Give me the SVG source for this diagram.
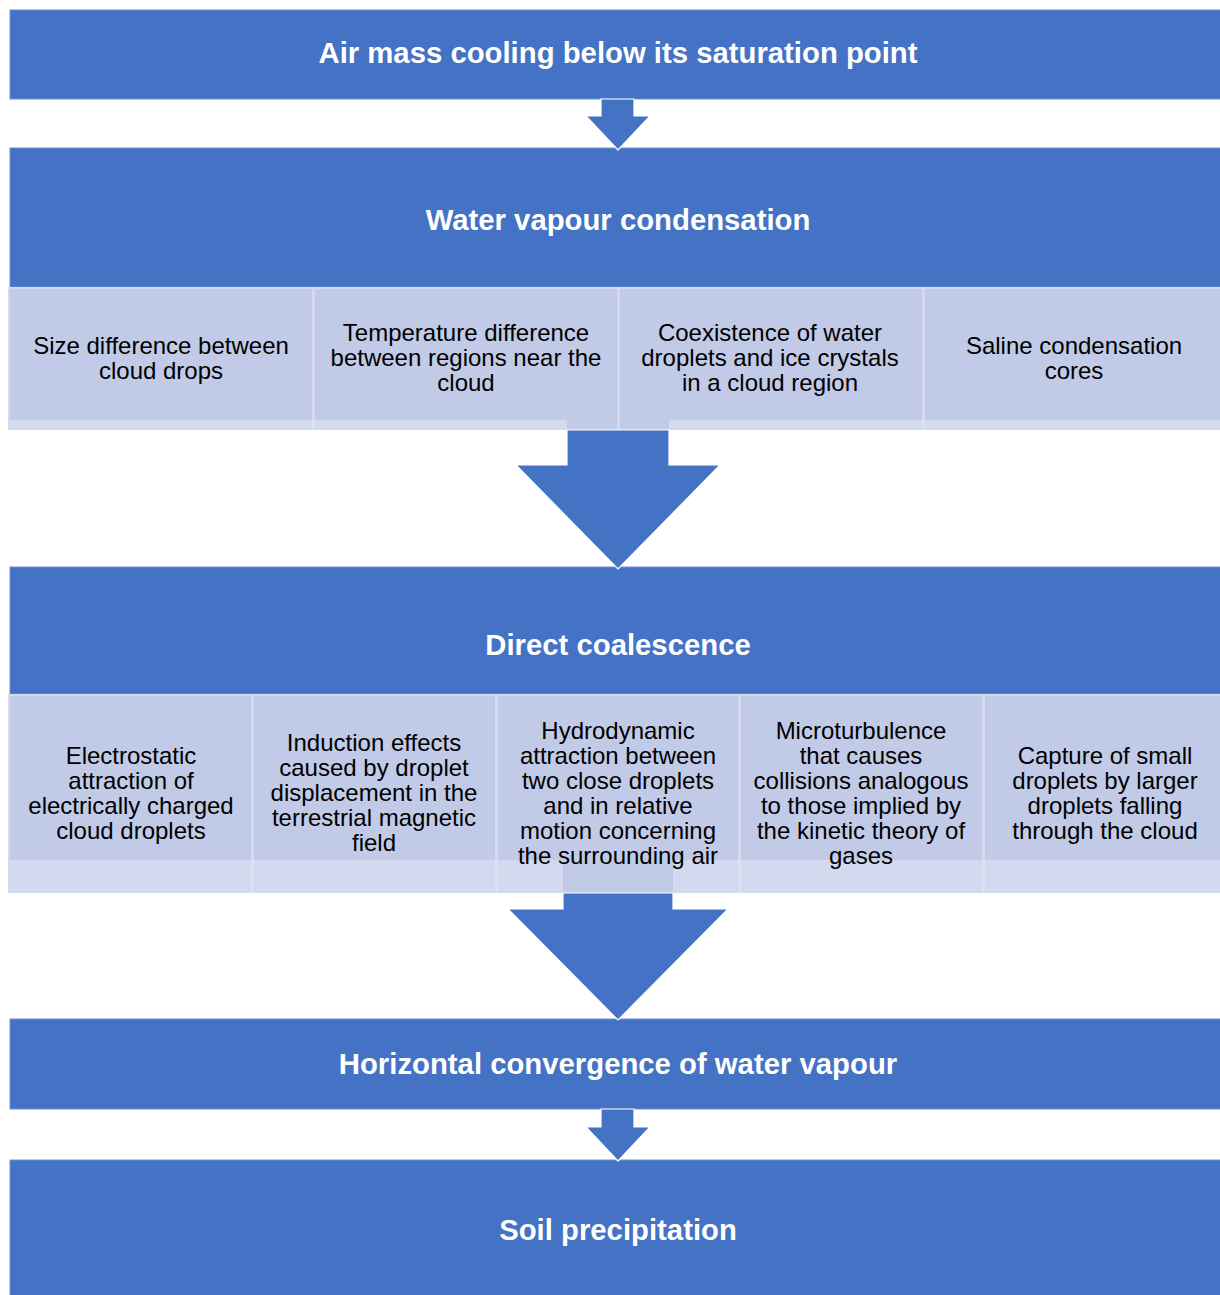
<svg xmlns="http://www.w3.org/2000/svg" width="1220" height="1295" viewBox="0 0 1220 1295">
<style>
.main{fill:#4472C4;stroke:#6E8FD0;stroke-width:1}
.title{font-family:"Liberation Sans",Arial,sans-serif;font-weight:bold;font-size:29.3px;fill:#FFFFFF;text-anchor:middle}
.bg{fill:#D3D9EE}
.cell{fill:#C1CAE6}
.sep{stroke:#DCE1F2;stroke-width:3}
.t{font-family:"Liberation Sans",Arial,sans-serif;font-size:24px;fill:#000000;text-anchor:middle}
.arrow{fill:#4472C4;stroke:#FFFFFF;stroke-width:1.2;stroke-linejoin:miter}
</style>
<rect width="1220" height="1295" fill="#FFFFFF"/>

<g id="node-air-mass">
<rect class="main" x="10" y="10" width="1215" height="89"/>
<text class="title" x="618" y="63">Air mass cooling below its saturation point</text>
</g>

<g id="node-water-vapour">
<rect class="main" x="10" y="148" width="1215" height="139"/>
<text class="title" x="618" y="230">Water vapour condensation</text>
</g>

<g id="row1">
<rect class="bg" x="8" y="287" width="1217" height="143"/>
<rect class="cell" x="567" y="420" width="50" height="10"/>
<rect class="cell" x="620" y="420" width="49" height="10"/>
<line class="sep" x1="313.5" y1="420" x2="313.5" y2="430"/>
<line class="sep" x1="923.5" y1="420" x2="923.5" y2="430"/>
<g id="node-size-difference">
<rect class="cell" x="10" y="289" width="302" height="131"/>
<text class="t"><tspan x="161" y="354">Size difference between</tspan><tspan x="161" y="379">cloud drops</tspan></text>
</g>
<g id="node-temperature-difference">
<rect class="cell" x="315" y="289" width="302" height="131"/>
<text class="t"><tspan x="466" y="341">Temperature difference</tspan><tspan x="466" y="366">between regions near the</tspan><tspan x="466" y="391">cloud</tspan></text>
</g>
<g id="node-coexistence">
<rect class="cell" x="620" y="289" width="302" height="131"/>
<text class="t"><tspan x="770" y="341">Coexistence of water</tspan><tspan x="770" y="366">droplets and ice crystals</tspan><tspan x="770" y="391">in a cloud region</tspan></text>
</g>
<g id="node-saline">
<rect class="cell" x="925" y="289" width="300" height="131"/>
<text class="t"><tspan x="1074" y="354">Saline condensation</tspan><tspan x="1074" y="379">cores</tspan></text>
</g>
</g>

<g id="node-direct-coalescence">
<rect class="main" x="10" y="567" width="1215" height="127"/>
<text class="title" x="618" y="655">Direct coalescence</text>
</g>

<g id="row2">
<rect class="bg" x="8" y="694" width="1217" height="199"/>
<rect class="cell" x="563" y="860" width="110" height="33"/>
<line class="sep" x1="252.5" y1="860" x2="252.5" y2="893"/>
<line class="sep" x1="496.5" y1="860" x2="496.5" y2="893"/>
<line class="sep" x1="739.5" y1="860" x2="739.5" y2="893"/>
<line class="sep" x1="983.5" y1="860" x2="983.5" y2="893"/>
<g id="node-electrostatic">
<rect class="cell" x="10" y="696" width="241" height="164"/>
<text class="t"><tspan x="131" y="764">Electrostatic</tspan><tspan x="131" y="789">attraction of</tspan><tspan x="131" y="814">electrically charged</tspan><tspan x="131" y="839">cloud droplets</tspan></text>
</g>
<g id="node-induction">
<rect class="cell" x="254" y="696" width="241" height="164"/>
<text class="t"><tspan x="374" y="751">Induction effects</tspan><tspan x="374" y="776">caused by droplet</tspan><tspan x="374" y="801">displacement in the</tspan><tspan x="374" y="826">terrestrial magnetic</tspan><tspan x="374" y="851">field</tspan></text>
</g>
<g id="node-hydrodynamic">
<rect class="cell" x="498" y="696" width="240" height="164"/>
<text class="t"><tspan x="618" y="739">Hydrodynamic</tspan><tspan x="618" y="764">attraction between</tspan><tspan x="618" y="789">two close droplets</tspan><tspan x="618" y="814">and in relative</tspan><tspan x="618" y="839">motion concerning</tspan><tspan x="618" y="864">the surrounding air</tspan></text>
</g>
<g id="node-microturbulence">
<rect class="cell" x="741" y="696" width="241" height="164"/>
<text class="t"><tspan x="861" y="739">Microturbulence</tspan><tspan x="861" y="764">that causes</tspan><tspan x="861" y="789">collisions analogous</tspan><tspan x="861" y="814">to those implied by</tspan><tspan x="861" y="839">the kinetic theory of</tspan><tspan x="861" y="864">gases</tspan></text>
</g>
<g id="node-capture">
<rect class="cell" x="985" y="696" width="240" height="164"/>
<text class="t"><tspan x="1105" y="764">Capture of small</tspan><tspan x="1105" y="789">droplets by larger</tspan><tspan x="1105" y="814">droplets falling</tspan><tspan x="1105" y="839">through the cloud</tspan></text>
</g>
</g>

<g id="node-horizontal-convergence">
<rect class="main" x="10" y="1019" width="1215" height="90"/>
<text class="title" x="618" y="1074">Horizontal convergence of water vapour</text>
</g>

<g id="node-soil-precipitation">
<rect class="main" x="10" y="1160" width="1215" height="140"/>
<text class="title" x="618" y="1240">Soil precipitation</text>
</g>

<g id="connectors">
<polygon class="arrow" points="601,99 634,99 634,116 650,116 618,150 586,116 601,116"/>
<polygon class="arrow" points="567,430 669,430 669,465 720,465 618,569 516,465 567,465"/>
<polygon class="arrow" points="563,893 673,893 673,909 728,909 618,1020 508,909 563,909"/>
<polygon class="arrow" points="601,1109 634,1109 634,1127 650,1127 618,1161 586,1127 601,1127"/>
</g>
</svg>
